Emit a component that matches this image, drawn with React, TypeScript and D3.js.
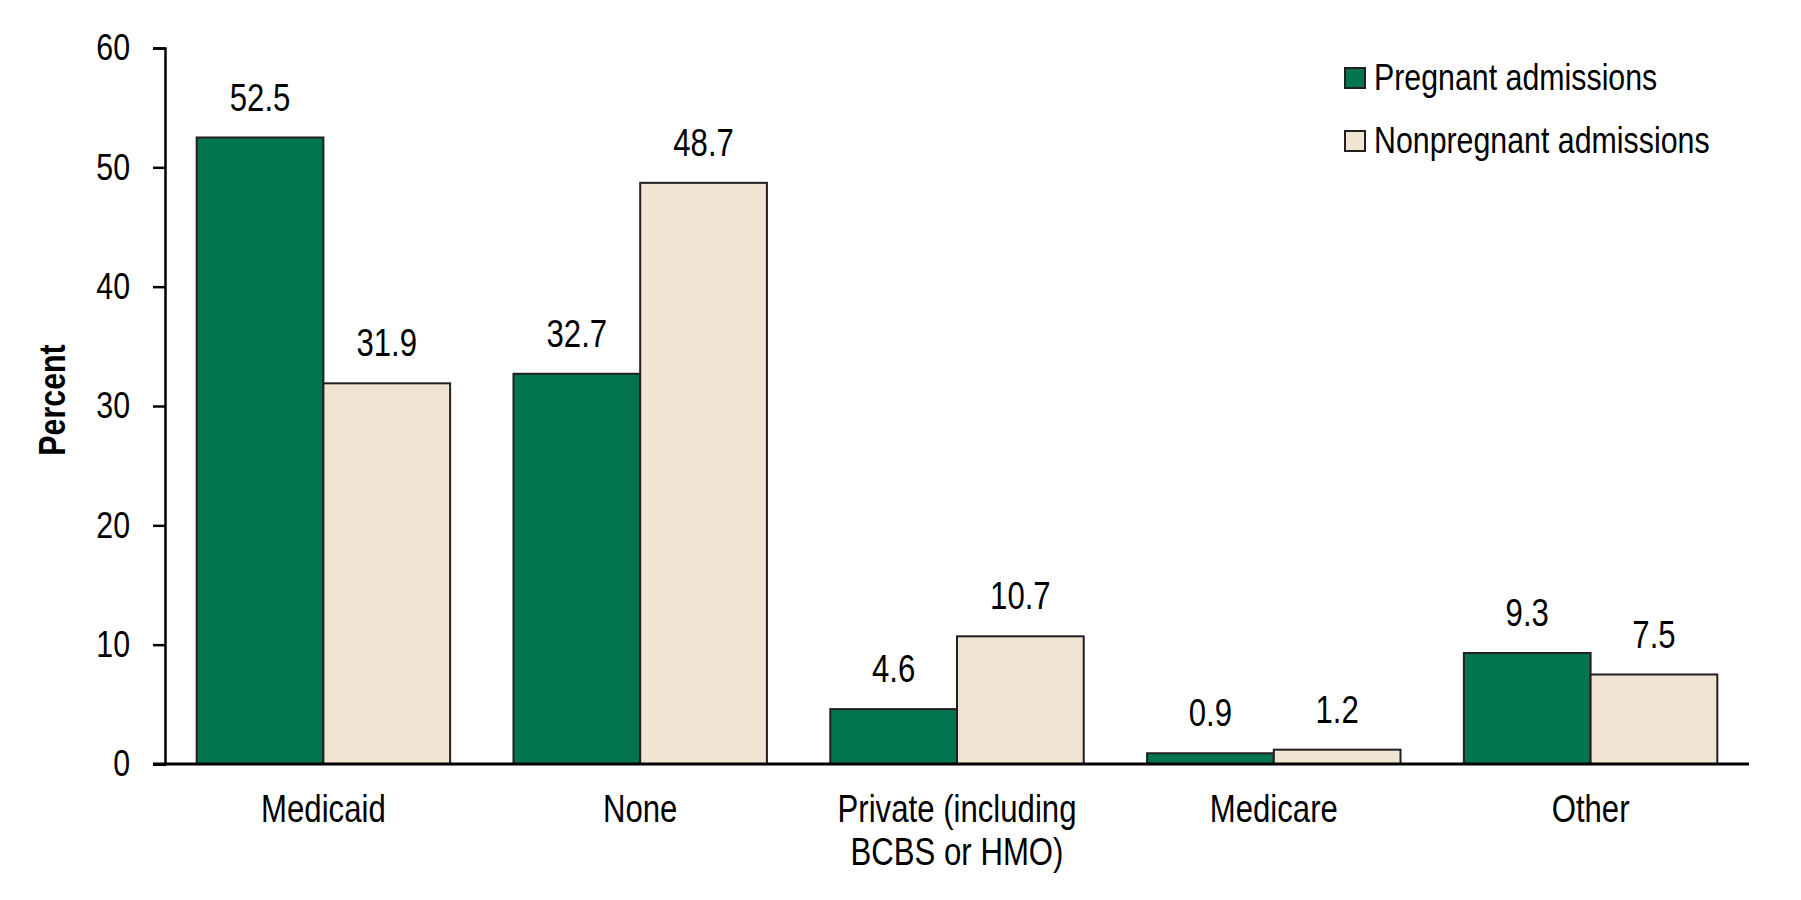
import React, { useRef, useEffect } from "react";
import * as d3 from "d3";

const categories = [
  ["Medicaid"],
  ["None"],
  ["Private (including", "BCBS or HMO)"],
  ["Medicare"],
  ["Other"],
];
const pregnant = [52.5, 32.7, 4.6, 0.9, 9.3];
const nonpregnant = [31.9, 48.7, 10.7, 1.2, 7.5];
const seriesNames = ["Pregnant admissions", "Nonpregnant admissions"];
const seriesColors = ["#02754f", "#f0e4d2"];
const yTicks = [0, 10, 20, 30, 40, 50, 60];

const W = 1801;
const H = 900;
const FONT = "'Liberation Sans', Arial, sans-serif";
// the original uses a condensed face; squeeze Liberation Sans horizontally
const SX = 0.82;

const plot = { left: 165, right: 1749, top: 48, bottom: 764 };

const App = () => {
  const ref = useRef<SVGSVGElement | null>(null);

  useEffect(() => {
    const svg = d3.select(ref.current);
    svg.selectAll("*").remove();

    const x = d3
      .scaleBand<number>()
      .domain(d3.range(categories.length))
      .range([plot.left, plot.right])
      .paddingInner(0.2)
      .paddingOuter(0.1);

    const y = d3.scaleLinear().domain([0, 60]).range([plot.bottom, plot.top]);

    const series = [pregnant, nonpregnant];
    const bw = x.bandwidth() / 2;

    // bars + value labels
    series.forEach((vals, si) => {
      svg
        .append("g")
        .selectAll("rect")
        .data(vals)
        .join("rect")
        .attr("x", (_d, i) => (x(i) as number) + si * bw)
        .attr("y", (d) => y(d))
        .attr("width", bw)
        .attr("height", (d) => y(0) - y(d))
        .attr("fill", seriesColors[si])
        .attr("stroke", "#231f20")
        .attr("stroke-width", 2);

      svg
        .append("g")
        .selectAll("text")
        .data(vals)
        .join("text")
        .attr(
          "transform",
          (d, i) =>
            `translate(${(x(i) as number) + si * bw + bw / 2},${y(d) - 27}) scale(${SX},1)`
        )
        .attr("text-anchor", "middle")
        .attr("font-family", FONT)
        .attr("font-size", 38)
        .attr("fill", "#000")
        .text((d) => d.toFixed(1));
    });

    // y axis
    const yAxis = d3
      .axisLeft(y)
      .tickValues(yTicks)
      .tickSize(12)
      .tickPadding(23)
      .tickFormat((d) => String(d));
    const yg = svg
      .append("g")
      .attr("transform", `translate(${plot.left},0)`)
      .call(yAxis);
    yg.selectAll("path, line").attr("stroke", "#000").attr("stroke-width", 2.5);
    yg.selectAll("text")
      .attr("x", -35 / SX)
      .attr("transform", `scale(${SX},1)`)
      .attr("font-family", FONT)
      .attr("font-size", 37)
      .attr("fill", "#000");

    // x axis line
    svg
      .append("line")
      .attr("x1", plot.left - 12)
      .attr("x2", plot.right)
      .attr("y1", y(0))
      .attr("y2", y(0))
      .attr("stroke", "#000")
      .attr("stroke-width", 3);

    // category labels
    const cat = svg
      .append("g")
      .selectAll("text")
      .data(categories)
      .join("text")
      .attr(
        "transform",
        (_d, i) => `translate(${(x(i) as number) + x.bandwidth() / 2},822) scale(${SX},1)`
      )
      .attr("text-anchor", "middle")
      .attr("font-family", FONT)
      .attr("font-size", 38)
      .attr("fill", "#000");
    cat
      .selectAll("tspan")
      .data((d) => d)
      .join("tspan")
      .attr("x", 0)
      .attr("dy", (_d, i) => (i === 0 ? 0 : 43))
      .text((d) => d);

    // y title
    svg
      .append("text")
      .attr("transform", `translate(65,400) rotate(-90) scale(${SX},1)`)
      .attr("text-anchor", "middle")
      .attr("font-family", FONT)
      .attr("font-weight", "bold")
      .attr("font-size", 37)
      .text("Percent");

    // legend
    const legend = svg
      .append("g")
      .selectAll("g")
      .data(seriesNames)
      .join("g")
      .attr("transform", (_d, i) => `translate(1345,${68 + i * 63})`);
    legend
      .append("rect")
      .attr("width", 20)
      .attr("height", 20)
      .attr("fill", (_d, i) => seriesColors[i])
      .attr("stroke", "#231f20")
      .attr("stroke-width", 2);
    legend
      .append("text")
      .attr("transform", `translate(29,22) scale(${SX},1)`)
      .attr("font-family", FONT)
      .attr("font-size", 37)
      .attr("fill", "#000")
      .text((d) => d);

    return () => undefined;
  }, []);

  return (
    <svg
      ref={ref}
      width={W}
      height={H}
      style={{ position: "absolute", left: 0, top: 0, background: "#fff" }}
    />
  );
};

export default App;
